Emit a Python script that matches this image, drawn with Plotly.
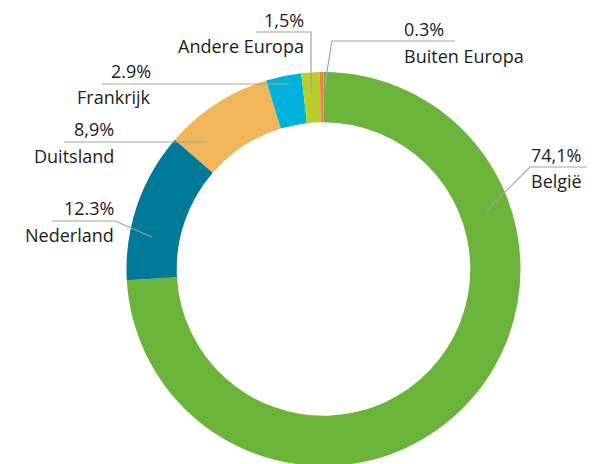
import plotly.graph_objects as go

categories = ["België", "Nederland", "Duitsland", "Frankrijk", "Andere Europa", "Buiten Europa"]
values = [74.1, 12.3, 8.9, 2.9, 1.5, 0.3]
value_labels = ["74,1%", "12.3%", "8,9%", "2.9%", "1,5%", "0.3%"]
colors = ["#6AB43A", "#007A99", "#F1B65A", "#00B2DB", "#B8CE2A", "#EE7F45"]

W, H = 595, 464
OFF = 8  # page body margin offset
CX, CY, R = 323.5, 269.0, 197.0


def px(x):
    return (x - OFF) / W


def py(y):
    return 1 - (y - OFF) / H


fig = go.Figure()
fig.add_trace(go.Pie(
    labels=categories,
    values=values,
    marker=dict(colors=colors, line=dict(width=0)),
    hole=0.745,
    sort=False,
    direction="clockwise",
    rotation=0,
    textinfo="none",
    hoverinfo="label+percent",
    showlegend=False,
    domain=dict(x=[max(0, px(CX - R)), min(1, px(CX + R))],
                y=[max(0, py(CY + R)), min(1, py(CY - R))]),
))

# label layout: (value label pos, category label pos, anchor, leader path)
label_layout = {
    "België": dict(anchor="left", vx=530, vy=155, cx=530, cy=181,
                   path=[(590, 167), (530, 167), (487, 210)]),
    "Nederland": dict(anchor="right", vx=115, vy=208, cx=115, cy=235,
                      path=[(52, 221), (115, 221), (152, 237)]),
    "Duitsland": dict(anchor="right", vx=115, vy=129, cx=115, cy=156,
                      path=[(64, 142), (207, 142)]),
    "Frankrijk": dict(anchor="right", vx=152, vy=71, cx=152, cy=97,
                      path=[(102, 84), (289, 84)]),
    "Andere Europa": dict(anchor="right", vx=305, vy=20, cx=305, cy=46,
                          path=[(256, 32), (311, 32), (311, 93)]),
    "Buiten Europa": dict(anchor="left", vx=403, vy=29, cx=403, cy=56,
                          path=[(455, 41), (332, 41), (323, 96)]),
}

font = dict(family="'Open Sans', Roboto, sans-serif", size=18, color="#1c1c1c")
annotations = []
shapes = []
for cat, vlab in zip(categories, value_labels):
    L = label_layout[cat]
    annotations.append(dict(x=px(L["vx"]), y=py(L["vy"]), xref="paper", yref="paper",
                            text=vlab, showarrow=False, xanchor=L["anchor"],
                            yanchor="middle", font=font, borderpad=0))
    annotations.append(dict(x=px(L["cx"]), y=py(L["cy"]), xref="paper", yref="paper",
                            text=cat, showarrow=False, xanchor=L["anchor"],
                            yanchor="middle", font=font, borderpad=0))
    pts = L["path"]
    d = "M " + " L ".join(f"{px(x)},{py(y)}" for x, y in pts)
    shapes.append(dict(type="path", path=d, xref="paper", yref="paper",
                       line=dict(color="#A3A3A3", width=1.2)))

fig.update_layout(
    width=W, height=H,
    margin=dict(l=0, r=0, t=0, b=0),
    paper_bgcolor="white",
    plot_bgcolor="white",
    annotations=annotations,
    shapes=shapes,
)

fig.write_html("out.html")
